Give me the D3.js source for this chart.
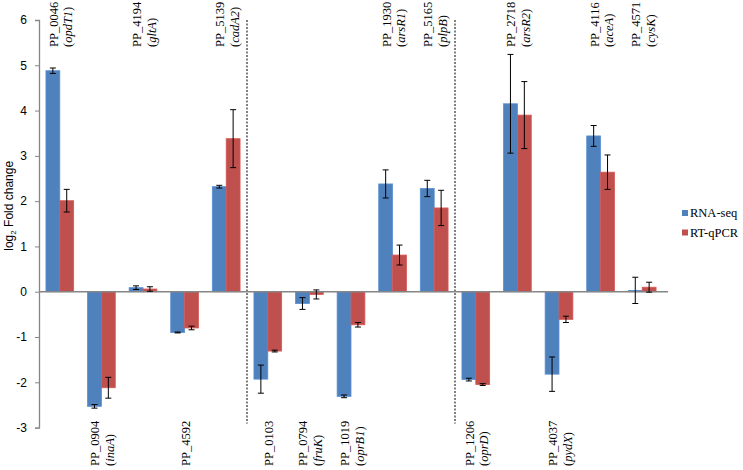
<!DOCTYPE html>
<html>
<head>
<meta charset="utf-8">
<script src="https://cdn.jsdelivr.net/npm/d3@7"></script>
<style>
  body { margin: 0; background: #fff; }
  svg { display: block; }
</style>
</head>
<body>
<svg id="chart" width="743" height="470"></svg>
<script>
// gene ids and (optional) gene names, in plotting order
const genes = ['PP_0046', 'PP_0904', 'PP_4194', 'PP_4592', 'PP_5139',
	'PP_0103', 'PP_0794', 'PP_1019', 'PP_1930', 'PP_5165',
	'PP_1206', 'PP_2718', 'PP_4037', 'PP_4116', 'PP_4571'];
const geneNames = ['opdT1', 'inaA', 'gltA', '', 'cadA2',
	'', 'fruK', 'oprB1', 'arsR1', 'plpB',
	'oprD', 'arsR2', 'pydX', 'aceA', 'cysK'];

const seriesNames = ['RNA-seq', 'RT-qPCR'];
const rnaSeq = [4.88, -2.53, 0.09, -0.90, 2.32, -1.93, -0.26, -2.31, 2.38, 2.28, -1.94, 4.15, -1.82, 3.44, 0.03];
const rnaSeqErr = [0.06, 0.04, 0.04, 0.01, 0.03, 0.31, 0.13, 0.03, 0.31, 0.18, 0.03, 1.09, 0.38, 0.23, 0.29];
const qpcr = [2.01, -2.12, 0.06, -0.80, 3.38, -1.31, -0.06, -0.73, 0.81, 1.85, -2.05, 3.90, -0.61, 2.64, 0.10];
const qpcrErr = [0.25, 0.23, 0.05, 0.04, 0.64, 0.02, 0.10, 0.05, 0.22, 0.39, 0.02, 0.74, 0.07, 0.38, 0.11];

// groups separated by dashed lines (index of first gene in next group)
const groupBreaks = [5, 10];
const yTicks = [-3, -2, -1, 0, 1, 2, 3, 4, 5, 6];

const colors = ['#4f81bd', '#c0504d'];

const svg = d3.select('#chart');
const plot = { left: 39, right: 663, top: 20, bottom: 427.6 };

const x = d3.scaleBand()
	.domain(genes)
	.range([plot.left, plot.right])
	.paddingInner(1 / 3)
	.paddingOuter(1 / 6);
const xs = d3.scaleBand()
	.domain(seriesNames)
	.range([0, x.bandwidth()]);
const y = d3.scaleLinear()
	.domain([-3, 6])
	.range([plot.bottom, plot.top]);

const step = x.step();
const center = (g) => x(g) + x.bandwidth() / 2;

// y axis
const yAxis = svg.append('g')
	.attr('transform', `translate(${plot.left},0)`)
	.call(d3.axisLeft(y).tickValues(yTicks).tickSize(4).tickPadding(8).tickFormat(d3.format('d')));
yAxis.select('.domain').attr('stroke', '#868686').attr('stroke-width', 1.3);
yAxis.selectAll('.tick line').attr('stroke', '#868686');
yAxis.selectAll('.tick text')
	.attr('fill', '#000')
	.style('font-family', '"Liberation Sans", Arial, sans-serif')
	.style('font-size', '12px')
	.text((d) => String(d));

svg.append('text')
	.attr('transform', `translate(13,${(plot.top + plot.bottom) / 2 - 18}) rotate(-90)`)
	.attr('text-anchor', 'middle')
	.style('font-family', '"Liberation Sans", Arial, sans-serif')
	.style('font-size', '12px')
	.call((t) => {
		t.append('tspan').text('log');
		t.append('tspan').attr('font-size', '8px').attr('dy', 3).text('2');
		t.append('tspan').attr('dy', -3).text(' Fold change');
	});

// dashed group separators
const sepX = (i) => x(genes[i]) - x.paddingInner() * step / 2;
svg.selectAll('line.sep')
	.data(groupBreaks)
	.join('line')
	.attr('class', 'sep')
	.attr('x1', sepX)
	.attr('x2', sepX)
	.attr('y1', plot.top)
	.attr('y2', plot.bottom - 4)
	.attr('stroke', '#000')
	.attr('stroke-width', 1)
	.attr('stroke-dasharray', '2,1.5');

// bars
const series = [
	{ name: seriesNames[0], values: rnaSeq, err: rnaSeqErr, color: colors[0] },
	{ name: seriesNames[1], values: qpcr, err: qpcrErr, color: colors[1] }
];

const rows = [];
series.forEach((s) => {
	genes.forEach((g, i) => rows.push({ gene: g, series: s.name, v: s.values[i], e: s.err[i], color: s.color }));
});

svg.append('g').selectAll('rect')
	.data(rows)
	.join('rect')
	.attr('x', (d) => x(d.gene) + xs(d.series))
	.attr('width', xs.bandwidth())
	.attr('y', (d) => y(Math.max(0, d.v)))
	.attr('height', (d) => Math.abs(y(d.v) - y(0)))
	.attr('fill', (d) => d.color)
	.attr('stroke', (d) => d3.color(d.color).brighter(0.3))
	.attr('stroke-width', 0.8);

// zero line
svg.append('line')
	.attr('x1', plot.left)
	.attr('x2', plot.right + 5)
	.attr('y1', y(0))
	.attr('y2', y(0))
	.attr('stroke', '#868686')
	.attr('stroke-width', 1.5);

// error bars
const eb = svg.append('g').selectAll('g')
	.data(rows)
	.join('g')
	.attr('transform', (d) => `translate(${x(d.gene) + xs(d.series) + xs.bandwidth() / 2},0)`)
	.attr('stroke', '#000')
	.attr('stroke-width', 1);
eb.append('line')
	.attr('y1', (d) => y(d.v + d.e))
	.attr('y2', (d) => y(d.v - d.e));
eb.append('line')
	.attr('x1', -3).attr('x2', 3)
	.attr('y1', (d) => y(d.v + d.e))
	.attr('y2', (d) => y(d.v + d.e));
eb.append('line')
	.attr('x1', -3).attr('x2', 3)
	.attr('y1', (d) => y(d.v - d.e))
	.attr('y2', (d) => y(d.v - d.e));

// gene labels, above the chart for up-regulated genes and below for down-regulated
const labels = svg.append('g')
	.style('font-family', '"Liberation Serif", "Times New Roman", serif')
	.style('font-size', '12.5px')
	.selectAll('g')
	.data(genes.map((g, i) => ({ gene: g, name: geneNames[i], up: rnaSeq[i] > 0 })))
	.join('g');

labels.append('text')
	.attr('transform', (d) => {
		const bx = center(d.gene) + (d.name ? -2 : 5);
		return `translate(${bx},${d.up ? 47 : 466}) rotate(-90)`;
	})
	.text((d) => d.gene);

labels.filter((d) => d.name)
	.append('text')
	.attr('transform', (d) => `translate(${center(d.gene) + 12.5},${d.up ? 47 : 466}) rotate(-90)`)
	.call((t) => {
		t.append('tspan').text('(');
		t.append('tspan').attr('font-style', 'italic').text((d) => d.name);
		t.append('tspan').text(')');
	});

// legend
const legend = svg.append('g')
	.selectAll('g')
	.data(series)
	.join('g')
	.attr('transform', (d, i) => `translate(682,${210 + i * 19.5})`);
legend.append('rect')
	.attr('width', 6)
	.attr('height', 6)
	.attr('fill', (d) => d.color);
legend.append('text')
	.attr('x', 8)
	.attr('y', 7)
	.style('font-family', '"Liberation Serif", "Times New Roman", serif')
	.style('font-size', '12.5px')
	.text((d) => d.name);
</script>
</body>
</html>
